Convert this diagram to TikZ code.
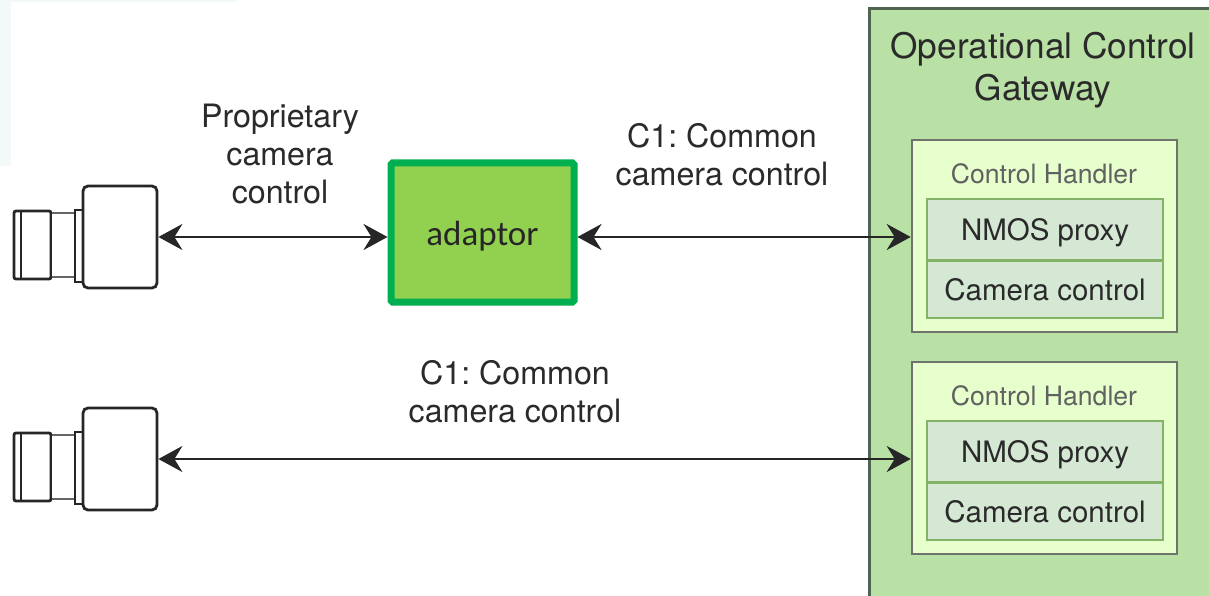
\documentclass[tikz,border=0pt]{standalone}
\usepackage{fontspec}
\setmainfont{TeX Gyre Heros}
\newfontfamily\adaptorfont{Carlito}
\usetikzlibrary{arrows.meta,positioning}
\frenchspacing
\definecolor{gwfill}{HTML}{B9E0A5}
\definecolor{gwline}{HTML}{4F6450}
\definecolor{chfill}{HTML}{E6FFCC}
\definecolor{chline}{HTML}{6E736C}
\definecolor{infill}{HTML}{D5E8D4}
\definecolor{inline}{HTML}{82B366}
\definecolor{adfill}{HTML}{92D050}
\definecolor{adline}{HTML}{00B050}
\definecolor{tint}{HTML}{F3F9F9}
\definecolor{labelc}{HTML}{2A2A2A}
\newcommand{\lowerby}[2]{\raisebox{-#1}[\height][\depth]{#2}}
\tikzset{
  gwbox/.style={draw=gwline,fill=gwfill,line width=2.8pt,minimum width=344pt,minimum height=594pt,inner sep=0pt},
  chbox/.style={draw=chline,fill=chfill,line width=2.6pt,minimum width=265pt,minimum height=192pt,inner sep=0pt},
  inbox/.style={draw=inline,fill=infill,line width=2pt,minimum width=236pt,inner sep=0pt,text=labelc,font=\fontsize{29.5}{34}\selectfont},
  adbox/.style={draw=adline,fill=adfill,line width=7pt,rounded corners=1.5pt,minimum width=183pt,minimum height=139pt,inner sep=0pt,font=\adaptorfont\fontsize{35}{40}\selectfont,text=black!85},
  lbl/.style={align=center,text=labelc,inner sep=0pt,font=\fontsize{32.2}{38}\selectfont},
  chlbl/.style={text=black!62,inner sep=0pt,font=\fontsize{26.6}{30}\selectfont},
  gwlbl/.style={align=center,text=labelc,inner sep=0pt,font=\fontsize{35.2}{41.5}\selectfont},
  cam/.style={draw=black!85,fill=white,line width=2.8pt,inner sep=0pt},
  cambody/.style={cam,rounded corners=5pt,minimum width=74pt,minimum height=102pt},
  link/.style={draw=black!85,line width=2.8pt,{Stealth[length=24pt,width=26pt,inset=8pt]}-{Stealth[length=24pt,width=26pt,inset=8pt]}}
}
\begin{document}
\begin{tikzpicture}[x=1pt,y=-1pt]
\useasboundingbox (0,0) rectangle (1209,596);
\fill[white] (0,0) rectangle (1209,596);
\fill[tint] (0,0) rectangle (11,166);
\fill[tint] (0,0) rectangle (237,2);
% gateway
\begin{scope}
\clip (0,0) rectangle (1209,596);
\node[gwbox,anchor=north west] (gw) at (868,7) {};
\end{scope}
\node[gwlbl] (gwt) at (1043,70) {Operational Control\\Gateway};
% handlers
\node[chbox] (ch1) at (1044.5,236) {};
\node[chlbl] (ch1t) at (1044,174) {Control Handler};
\node[inbox,minimum height=61pt] (n1) at (1045,229.5) {\lowerby{3pt}{NMOS proxy}};
\node[inbox,minimum height=57pt] (c1) at (1045,289) {\lowerby{1pt}{Camera control}};
\node[chbox] (ch2) at (1044.5,458) {};
\node[chlbl] (ch2t) at (1044,396) {Control Handler};
\node[inbox,minimum height=61pt] (n2) at (1045,451.5) {\lowerby{3pt}{NMOS proxy}};
\node[inbox,minimum height=57pt] (c2) at (1045,511) {\lowerby{1pt}{Camera control}};
% adaptor
\node[adbox] (ad) at (482.5,232.5) {\lowerby{4pt}{adaptor}};
% cameras
\foreach \n/\o in {a/0,b/222}{
  \node[cam,rounded corners=2pt,minimum width=37pt,minimum height=68pt] (\n lens) at (32.5,245+\o) {};
  \draw[cam,line width=2pt] (21,211+\o) -- (21,279+\o);
  \node[cam,minimum width=24pt,minimum height=64pt,line width=2.6pt,draw=black!60] (\n neck) at (63,245+\o) {};
  \draw[cam,draw=black!85] (51,211+\o) -- (51,279+\o);
  \node[cam,minimum width=8pt,minimum height=72pt] (\n coll) at (79,246+\o) {};
  \node[cambody] (\n body) at (120,237+\o) {};
}
% labels
\node[lbl] (l1) at (280,154) {Proprietary\\camera\\control};
\node[lbl] (l2) at (722,155) {C1: Common\\camera control};
\node[lbl] (l3) at (515,392) {C1: Common\\camera control};
% connectors
\path[link] (abody.east) -- (abody.east -| ad.west);
\path[link] (ad.east |- abody.east) -- (abody.east -| ch1.west);
\path[link] (bbody.east) -- (bbody.east -| ch2.west);
\end{tikzpicture}
\end{document}
